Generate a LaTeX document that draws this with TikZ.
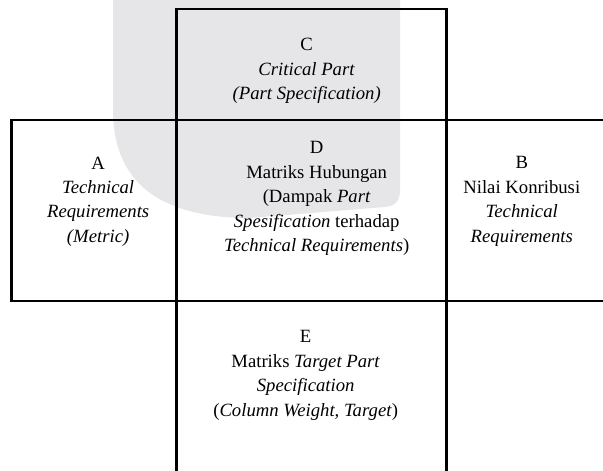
\documentclass[tikz,border=0pt]{standalone}
\usepackage{fontspec}
\setmainfont{Liberation Serif}
\usetikzlibrary{positioning}
\definecolor{wmgrey}{RGB}{230,230,232}
\tikzset{cell/.style={draw=black, line width=2pt, outer sep=0pt, inner sep=0pt, minimum width=6.75cm}}
\tikzset{lbl/.style={align=center, inner sep=0pt, font=\fontsize{13.3}{17.4}\selectfont}}

\begin{document}
\begin{tikzpicture}[x=0.025cm, y=-0.025cm]
      \useasboundingbox (0,0) rectangle (603,470);
      \clip (0,0) rectangle (603,470);
      \fill[wmgrey] (113,-5) -- (113,110) .. controls (113,190) and (170,218) .. (250,218) -- (385,207) .. controls (396,206) and (400,200) .. (400,190) -- (400,-5) -- cycle;

      \node[cell, minimum height=4.525cm] (D) at (311.7,210.5) {};
      \node[cell, minimum height=2.775cm, above=0cm of D] (C) {};
      \node[cell, minimum height=4.5cm, below=0cm of D] (E) {};
      \node[cell, minimum width=4.125cm, minimum height=4.525cm, left=0cm of D] (A) {};
      \node[cell, minimum width=4cm, minimum height=4.525cm, right=0cm of D] (B) {};

      \node[lbl, below=0.73cm of C.north, xshift=-0.125cm] (Ctext) {C\\\textit{Critical Part}\\\textit{(Part Specification)}};
      \node[lbl, below=0.53cm of D.north, xshift=0.125cm] (Dtext) {D\\Matriks Hubungan\\(Dampak \textit{Part}\\\textit{Spesification} terhadap\\\textit{Technical Requirements})};
      \node[lbl, below=0.91cm of A.north, xshift=0.1cm] (Atext) {A\\\textit{Technical}\\\textit{Requirements}\\\textit{(Metric)}};
      \node[lbl, below=0.91cm of B.north, xshift=-0.125cm] (Btext) {B\\Nilai Konribusi\\\textit{Technical}\\\textit{Requirements}};
      \node[lbl, below=0.73cm of E.north, xshift=-0.15cm] (Etext) {E\\Matriks \textit{Target Part}\\\textit{Specification}\\(\textit{Column Weight, Target})};
\end{tikzpicture}
\end{document}
